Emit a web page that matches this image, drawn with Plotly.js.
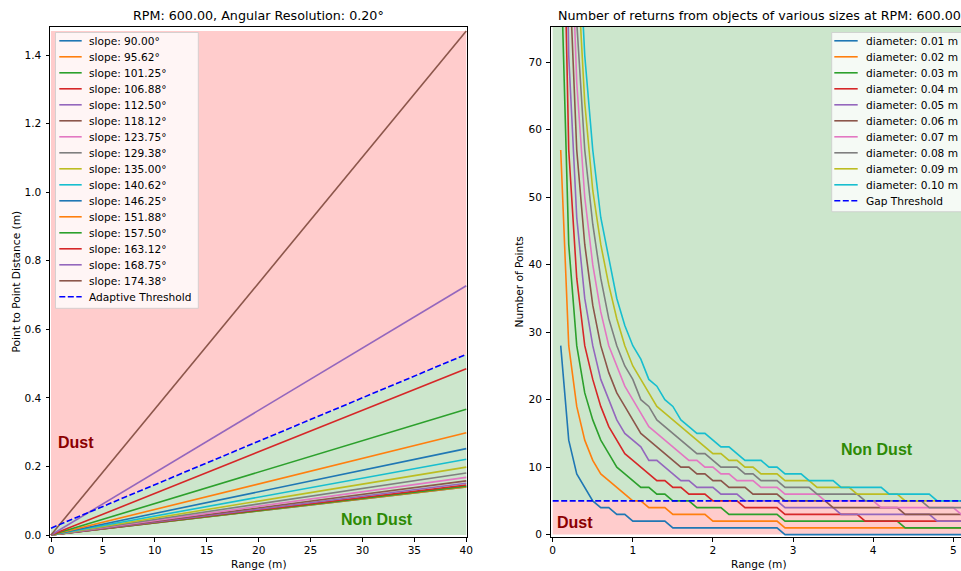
<!DOCTYPE html>
<html>
<head>
<meta charset="utf-8">
<script src="https://cdn.plot.ly/plotly-3.0.1.min.js"></script>
<style>
  html, body { margin: 0; padding: 0; overflow: hidden; background: #ffffff; }
  #chart { width: 1000px; height: 571px; }
</style>
</head>
<body>
<div id="chart"></div>
<script>
// ---------------- data: left panel ----------------
const slopeDegrees = [90.00, 95.62, 101.25, 106.88, 112.50, 118.12, 123.75, 129.38,
                      135.00, 140.62, 146.25, 151.88, 157.50, 163.12, 168.75, 174.38];
const leftRange = [0, 40];
// point-to-point distance (m) at range 0 m and 40 m, one pair per slope
const slopeDistances = [
  [0, 0.140], [0, 0.1405], [0, 0.1425], [0, 0.146], [0, 0.151], [0, 0.158],
  [0, 0.168], [0, 0.181], [0, 0.198], [0, 0.221], [0, 0.252], [0, 0.298],
  [0, 0.367], [0, 0.485], [0, 0.727], [0, 1.47]
];
const adaptiveThreshold = [0.02, 0.527];
const dustTopLeft = [1.47, 1.47];
const leftXTicks = [0, 5, 10, 15, 20, 25, 30, 35, 40];
const leftYTicks = [0.0, 0.2, 0.4, 0.6, 0.8, 1.0, 1.2, 1.4];

// ---------------- data: right panel ----------------
const diameters = [0.01, 0.02, 0.03, 0.04, 0.05, 0.06, 0.07, 0.08, 0.09, 0.10];
const rightRange = [0.1, 0.2, 0.3, 0.4, 0.5, 0.6, 0.7, 0.8, 0.9, 1.0,
                    1.1, 1.2, 1.3, 1.4, 1.5, 1.6, 1.7, 1.8, 1.9, 2.0,
                    2.1, 2.2, 2.3, 2.4, 2.5, 2.6, 2.7, 2.8, 2.9, 3.0,
                    3.1, 3.2, 3.3, 3.4, 3.5, 3.6, 3.7, 3.8, 3.9, 4.0,
                    4.1, 4.2, 4.3, 4.4, 4.5, 4.6, 4.7, 4.8, 4.9, 5.0,
                    5.1, 5.2, 5.3];
const pointsD01 = [28,14,9,7,5,4,4,3,3,2, 2,2,2,2,1,1,1,1,1,1, 1,1,1,1,1,1,1,1,0,0, 0,0,0,0,0,0,0,0,0,0, 0,0,0,0,0,0,0,0,0,0, 0,0,0];
const pointsD02 = [57,28,19,14,11,9,8,7,6,5, 5,4,4,4,3,3,3,3,3,2, 2,2,2,2,2,2,2,2,1,1, 1,1,1,1,1,1,1,1,1,1, 1,1,1,1,1,1,1,1,1,1, 1,1,1];
const pointsD03 = [86,43,28,21,17,14,12,10,9,8, 7,7,6,6,5,5,5,4,4,4, 4,3,3,3,3,3,3,3,2,2, 2,2,2,2,2,2,2,2,2,2, 2,2,2,1,1,1,1,1,1,1, 1,1,1];
const pointsD04 = [115,57,38,28,23,19,16,14,12,11, 10,9,8,8,7,7,6,6,6,5, 5,5,5,4,4,4,4,4,3,3, 3,3,3,3,3,3,3,3,2,2, 2,2,2,2,2,2,2,2,2,2, 2,2,2];
const pointsD05 = [143,71,47,35,28,23,20,17,15,14, 13,11,11,10,9,8,8,7,7,7, 6,6,6,5,5,5,5,5,4,4, 4,4,4,4,4,3,3,3,3,3, 3,3,3,3,3,3,3,2,2,2, 2,2,2];
const pointsD06 = [172,86,57,43,34,28,24,21,19,17, 15,14,13,12,11,10,10,9,9,8, 8,7,7,7,6,6,6,6,5,5, 5,5,5,5,4,4,4,4,4,4, 4,4,4,3,3,3,3,3,3,3, 3,3,3];
const pointsD07 = [201,100,67,50,40,33,28,25,22,20, 18,16,15,14,13,12,11,11,10,10, 9,9,8,8,8,7,7,7,6,6, 6,6,6,5,5,5,5,5,5,5, 4,4,4,4,4,4,4,4,4,4, 3,3,3];
const pointsD08 = [230,115,76,57,46,38,32,28,25,23, 20,19,17,16,15,14,13,12,12,11, 10,10,10,9,9,8,8,8,7,7, 7,7,6,6,6,6,6,6,5,5, 5,5,5,5,5,5,4,4,4,4, 4,4,4];
const pointsD09 = [259,129,86,64,51,43,37,32,28,25, 23,21,19,18,17,16,15,14,13,12, 12,11,11,10,10,9,9,9,8,8, 8,8,7,7,7,7,7,6,6,6, 6,6,6,5,5,5,5,5,5,5, 5,4,4];
const pointsD10 = [287,143,95,71,57,47,41,35,31,28, 26,23,22,20,19,17,16,15,15,14, 13,13,12,11,11,11,10,10,9,9, 9,8,8,8,8,7,7,7,7,7, 7,6,6,6,6,6,6,5,5,5, 5,5,5];
const pointsByDiameter = [pointsD01, pointsD02, pointsD03, pointsD04, pointsD05,
                          pointsD06, pointsD07, pointsD08, pointsD09, pointsD10];
const gapRange = [0, 5.3];
const gapThreshold = [5, 5];
const nonDustTopRight = [75.3, 75.3];
const rightXTicks = [0, 1, 2, 3, 4, 5];
const rightYTicks = [0, 10, 20, 30, 40, 50, 60, 70];

// ---------------- styles ----------------
const palette = ['#1f77b4', '#ff7f0e', '#2ca02c', '#d62728', '#9467bd',
                 '#8c564b', '#e377c2', '#7f7f7f', '#bcbd22', '#17becf'];
const FONT = 'DejaVu Sans, Liberation Sans, sans-serif';
const BOLD_FONT = 'Liberation Sans, Arial, sans-serif';
const TICK = 10.6, TITLE = 12.7, LW = 1.6, DASH = '6px,2.5px';
const DUST_FILL = 'rgb(255,204,204)', NONDUST_FILL = 'rgb(204,230,204)';
const W = 1000, H = 571;
const px = v => v / W;
const py = v => (H - v) / H;

const traces = [];
// left background regions
traces.push({x: leftRange, y: adaptiveThreshold, xaxis: 'x', yaxis: 'y', mode: 'lines',
  line: {width: 0}, fill: 'tozeroy', fillcolor: NONDUST_FILL, showlegend: false, hoverinfo: 'skip'});
traces.push({x: leftRange, y: dustTopLeft, xaxis: 'x', yaxis: 'y', mode: 'lines',
  line: {width: 0}, fill: 'tonexty', fillcolor: DUST_FILL, showlegend: false, hoverinfo: 'skip'});
const leftEntries = [];
slopeDegrees.forEach((s, i) => {
  const name = 'slope: ' + s.toFixed(2) + '°';
  const line = {color: palette[i % 10], width: LW};
  traces.push({x: leftRange, y: slopeDistances[i], xaxis: 'x', yaxis: 'y', mode: 'lines',
    name: name, line: line, showlegend: false});
  leftEntries.push({name: name, line: line});
});
const adaptiveLine = {color: '#0000ff', width: LW, dash: DASH};
traces.push({x: leftRange, y: adaptiveThreshold, xaxis: 'x', yaxis: 'y', mode: 'lines',
  name: 'Adaptive Threshold', line: adaptiveLine, showlegend: false});
leftEntries.push({name: 'Adaptive Threshold', line: adaptiveLine});

// right background regions
traces.push({x: gapRange, y: gapThreshold, xaxis: 'x2', yaxis: 'y2', mode: 'lines',
  line: {width: 0}, fill: 'tozeroy', fillcolor: DUST_FILL, showlegend: false, hoverinfo: 'skip'});
traces.push({x: gapRange, y: nonDustTopRight, xaxis: 'x2', yaxis: 'y2', mode: 'lines',
  line: {width: 0}, fill: 'tonexty', fillcolor: NONDUST_FILL, showlegend: false, hoverinfo: 'skip'});
const rightEntries = [];
diameters.forEach((d, i) => {
  const name = 'diameter: ' + d.toFixed(2) + ' m';
  const line = {color: palette[i % 10], width: LW};
  traces.push({x: rightRange, y: pointsByDiameter[i], xaxis: 'x2', yaxis: 'y2', mode: 'lines',
    name: name, line: line, showlegend: false});
  rightEntries.push({name: name, line: line});
});
const gapLine = {color: '#0000ff', width: LW, dash: DASH};
traces.push({x: gapRange, y: gapThreshold, xaxis: 'x2', yaxis: 'y2', mode: 'lines',
  name: 'Gap Threshold', line: gapLine, showlegend: false});
rightEntries.push({name: 'Gap Threshold', line: gapLine});

// ---------------- legends (matplotlib-style boxes) ----------------
const shapes = [];
const annotations = [];
function buildLegend(entries, box, lineX0, lineX1, textX, firstY, step) {
  shapes.push({type: 'rect', xref: 'paper', yref: 'paper', layer: 'above',
    x0: px(box[0]), x1: px(box[1]), y0: py(box[3]), y1: py(box[2]),
    fillcolor: 'rgba(255,255,255,0.8)', line: {color: 'rgba(204,204,204,0.8)', width: 1}});
  entries.forEach((e, i) => {
    const yy = firstY + i * step;
    shapes.push({type: 'line', xref: 'paper', yref: 'paper', layer: 'above',
      x0: px(lineX0), x1: px(lineX1), y0: py(yy), y1: py(yy),
      line: {color: e.line.color, width: e.line.width, dash: e.line.dash || 'solid'}});
    annotations.push({text: e.name, xref: 'paper', yref: 'paper', x: px(textX), y: py(yy),
      xanchor: 'left', yanchor: 'middle', showarrow: false, borderpad: 0, borderwidth: 0,
      font: {family: FONT, size: TICK, color: '#000'}});
  });
}
buildLegend(leftEntries, [55.5, 198.3, 32.5, 308.3], 59.3, 81.7, 89.3, 40.8, 16);
buildLegend(rightEntries, [831.7, 963, 32.5, 211.7], 834.3, 857.7, 865.7, 40.8, 16);

const axisBase = {
  ticks: 'outside', ticklen: 3.5, tickwidth: 0.8, tickcolor: '#000',
  showline: true, mirror: true, linecolor: '#000', linewidth: 1,
  showgrid: false, zeroline: false,
  tickfont: {family: FONT, size: TICK, color: '#000'}
};
const yDomain = [py(537), py(27)];

function textAnn(text, x, y, extra) {
  return Object.assign({text: text, xref: 'paper', yref: 'paper', x: px(x), y: py(y),
    xanchor: 'center', yanchor: 'middle', showarrow: false, borderpad: 0, borderwidth: 0,
    font: {family: FONT, size: TICK, color: '#000'}}, extra || {});
}
annotations.push(
  textAnn('RPM: 600.00, Angular Resolution: 0.20°', 258.5, 15.5, {font: {family: FONT, size: TITLE, color: '#000'}}),
  textAnn('Number of returns from objects of various sizes at RPM: 600.00', 759, 15.5, {font: {family: FONT, size: TITLE, color: '#000'}}),
  textAnn('Range (m)', 258.5, 563.5),
  textAnn('Range (m)', 759, 563.5),
  textAnn('Point to Point Distance (m)', 15.5, 282, {textangle: -90}),
  textAnn('Number of Points', 518.5, 282, {textangle: -90}),
  {text: 'Dust', xref: 'x', yref: 'y', x: 0.7, y: 0.269, xanchor: 'left', yanchor: 'middle', showarrow: false,
    borderpad: 0, borderwidth: 0, font: {family: BOLD_FONT, size: 16, color: '#8b0000', weight: 'bold'}},
  {text: 'Non Dust', xref: 'x', yref: 'y', x: 27.95, y: 0.046, xanchor: 'left', yanchor: 'middle', showarrow: false,
    borderpad: 0, borderwidth: 0, font: {family: BOLD_FONT, size: 16, color: 'rgb(45,138,5)', weight: 'bold'}},
  {text: 'Dust', xref: 'x2', yref: 'y2', x: 0.057, y: 1.72, xanchor: 'left', yanchor: 'middle', showarrow: false,
    borderpad: 0, borderwidth: 0, font: {family: BOLD_FONT, size: 16, color: '#8b0000', weight: 'bold'}},
  {text: 'Non Dust', xref: 'x2', yref: 'y2', x: 3.6, y: 12.6, xanchor: 'left', yanchor: 'middle', showarrow: false,
    borderpad: 0, borderwidth: 0, font: {family: BOLD_FONT, size: 16, color: 'rgb(45,138,5)', weight: 'bold'}}
);

const layout = {
  width: W, height: H,
  margin: {l: 0, r: 0, t: 0, b: 0},
  paper_bgcolor: '#ffffff', plot_bgcolor: '#ffffff',
  showlegend: false,
  xaxis: Object.assign({}, axisBase, {domain: [px(50), px(467)], range: [-0.096, 40.07],
    tickvals: leftXTicks, anchor: 'y'}),
  yaxis: Object.assign({}, axisBase, {domain: yDomain, range: [-0.0058, 1.4817],
    tickvals: leftYTicks, tickformat: '.1f', anchor: 'x', ticklabelstandoff: 2}),
  xaxis2: Object.assign({}, axisBase, {domain: [px(550.7), px(967.7)], range: [-0.025, 5.18],
    tickvals: rightXTicks, anchor: 'y2'}),
  yaxis2: Object.assign({}, axisBase, {domain: yDomain, range: [-0.356, 75.23],
    tickvals: rightYTicks, anchor: 'x2', ticklabelstandoff: 2}),
  shapes: shapes,
  annotations: annotations
};

Plotly.newPlot('chart', traces, layout, {displayModeBar: false, responsive: false});
</script>
</body>
</html>
